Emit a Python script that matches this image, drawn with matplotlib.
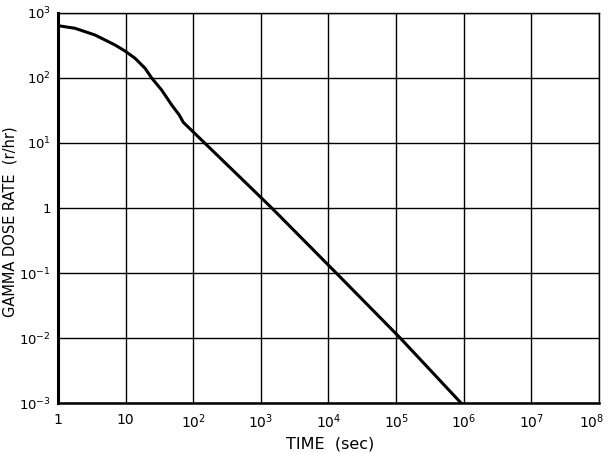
import numpy as np
import matplotlib
matplotlib.use("Agg")
import matplotlib.pyplot as plt
from matplotlib.transforms import ScaledTranslation

# values (log-log)
time_sec = [1, 1.78, 3.52, 6.97, 9.8, 13.8, 19.4, 24.3, 34.2, 48, 62, 71.3,
            1450, 13000, 115000, 912000]
dose_rate = [638, 582, 459, 322, 260, 201, 141, 100, 65, 38.5, 27, 20.8,
             1, 0.1, 0.01, 0.001]

x_ticks = [1, 10, 1e2, 1e3, 1e4, 1e5, 1e6, 1e7, 1e8]
x_labels = ["1", "10", r"$10^2$", r"$10^3$", r"$10^4$", r"$10^5$",
            r"$10^6$", r"$10^7$", r"$10^8$"]
y_ticks = [1e-3, 1e-2, 1e-1, 1, 10, 1e2, 1e3]
y_labels = [r"$10^{-3}$", r"$10^{-2}$", r"$10^{-1}$", "1", r"$10^1$",
            r"$10^2$", r"$10^3$"]

plt.rcParams["font.family"] = ["DejaVu Sans"]
plt.rcParams["mathtext.fontset"] = "dejavusans"

fig = plt.figure(figsize=(6.09, 4.54), dpi=100)
ax = fig.add_axes([0.0952, 0.1123, 0.8884, 0.8591])

ax.plot(time_sec, dose_rate, color="black", linewidth=2.2,
        solid_joinstyle="round", zorder=3)

ax.set_xscale("log")
ax.set_yscale("log")
ax.set_xlim(1, 1e8)
ax.set_ylim(1e-3, 1e3)
ax.set_xticks(x_ticks)
ax.set_xticklabels(x_labels)
ax.set_yticks(y_ticks)
ax.set_yticklabels(y_labels)
ax.minorticks_off()
ax.tick_params(length=0, labelsize=10)
ax.tick_params(axis="x", pad=7)
ax.tick_params(axis="y", labelsize=9.5, pad=5)
ax.grid(True, color="black", linewidth=1.0)

# last x label sits tight against the right edge in the original
last = ax.get_xticklabels()[-1]
last.set_transform(last.get_transform() + ScaledTranslation(-5 / 72, 0, fig.dpi_scale_trans))

for side in ["top", "right"]:
    ax.spines[side].set_linewidth(1.0)
ax.spines["left"].set_linewidth(2.2)
ax.spines["bottom"].set_linewidth(1.8)

ax.set_xlabel("TIME  (sec)", fontsize=11.5)
ax.xaxis.set_label_coords(0.503, -0.087)
ax.set_ylabel("GAMMA DOSE RATE  (r/hr)", fontsize=10.5)
ax.yaxis.set_label_coords(-0.074, 0.464)

fig.savefig("out.png", dpi=100)
plt.close(fig)
